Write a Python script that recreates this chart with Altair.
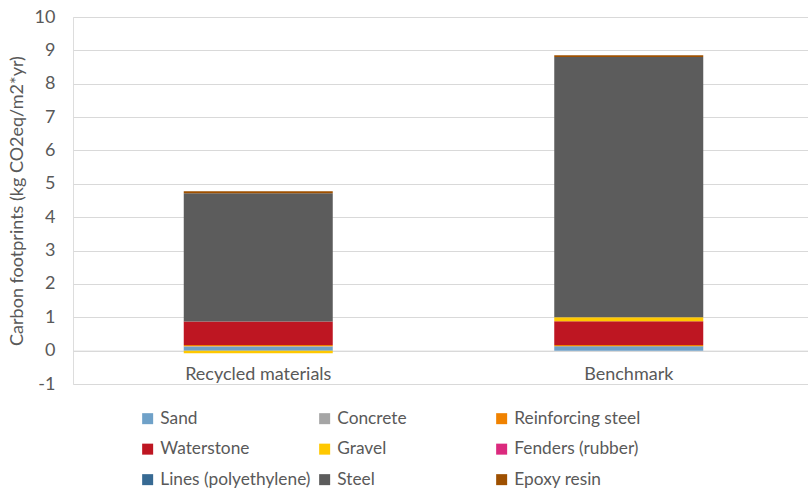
import altair as alt
import pandas as pd

# Carbon footprint per material, kg CO2eq / m2 / yr
scenarios = ["Recycled materials", "Benchmark"]
materials = ["Sand", "Concrete", "Reinforcing steel",
             "Waterstone", "Gravel", "Fenders (rubber)",
             "Lines (polyethylene)", "Steel", "Epoxy resin"]
recycled = [0.12, 0.01, 0.04, 0.70, -0.08, 0.0, 0.0, 3.85, 0.06]
benchmark = [0.13, 0.0, 0.04, 0.71, 0.12, 0.0, 0.0, 7.80, 0.05]
colors = ["#6FA1C8", "#A5A5A5", "#F08200",
          "#BE1622", "#FFC800", "#DB2A7E",
          "#376A93", "#5C5C5C", "#9E5000"]
y_ticks = list(range(-1, 11))

rows = []
for scen, vals in zip(scenarios, [recycled, benchmark]):
    for i, (m, v) in enumerate(zip(materials, vals)):
        rows.append({"scenario": scen, "material": m, "value": v, "idx": i})
df = pd.DataFrame(rows)

FONT = "Lato"
GREY = "#595959"

chart = alt.Chart(df).mark_bar(size=149).encode(
    x=alt.X("scenario:N", sort=scenarios,
            scale=alt.Scale(range=[0, 741], paddingInner=0, paddingOuter=0),
            axis=alt.Axis(title=None, labelAngle=0, offset=-33.4,
                          ticks=False, tickSize=0, labelPadding=15,
                          domainColor="#D9D9D9", labelFontSize=18,
                          labelColor=GREY, labelFont=FONT)),
    y=alt.Y("sum(value):Q", stack="zero",
            scale=alt.Scale(domain=[-1, 10], nice=False, zero=False),
            axis=alt.Axis(title="Carbon footprints (kg CO2eq/m2*yr)",
                          values=y_ticks, labelExpr="toString(datum.value)",
                          grid=True, gridColor="#D9D9D9", domain=False,
                          ticks=False, labelPadding=18, labelFontSize=18,
                          labelColor=GREY, labelFont=FONT, titleFont=FONT,
                          titleFontSize=18, titleFontWeight="normal",
                          titleColor=GREY, titlePadding=8)),
    color=alt.Color("material:N", sort=materials,
                    scale=alt.Scale(domain=materials, range=colors),
                    legend=alt.Legend(title=None, orient="none",
                                      direction="horizontal",
                                      legendX=66, legendY=393,
                                      columns=3, gridAlign="all",
                                      columnPadding=5, rowPadding=12.5,
                                      symbolType="square", symbolSize=121,
                                      symbolStrokeWidth=0, symbolOpacity=1,
                                      labelFontSize=17.3, labelColor=GREY,
                                      labelFont=FONT, labelOffset=4,
                                      labelLimit=300, padding=0)),
    order=alt.Order("idx:Q", sort="ascending"),
).properties(
    width=735, height=367,
    autosize=alt.AutoSizeParams(type="none"),
    padding={"left": 73, "top": 17, "right": 0, "bottom": 106},
).configure_view(stroke=None).configure(background="white")

chart.save("out.html", embed_options={"renderer": "svg", "actions": False})
